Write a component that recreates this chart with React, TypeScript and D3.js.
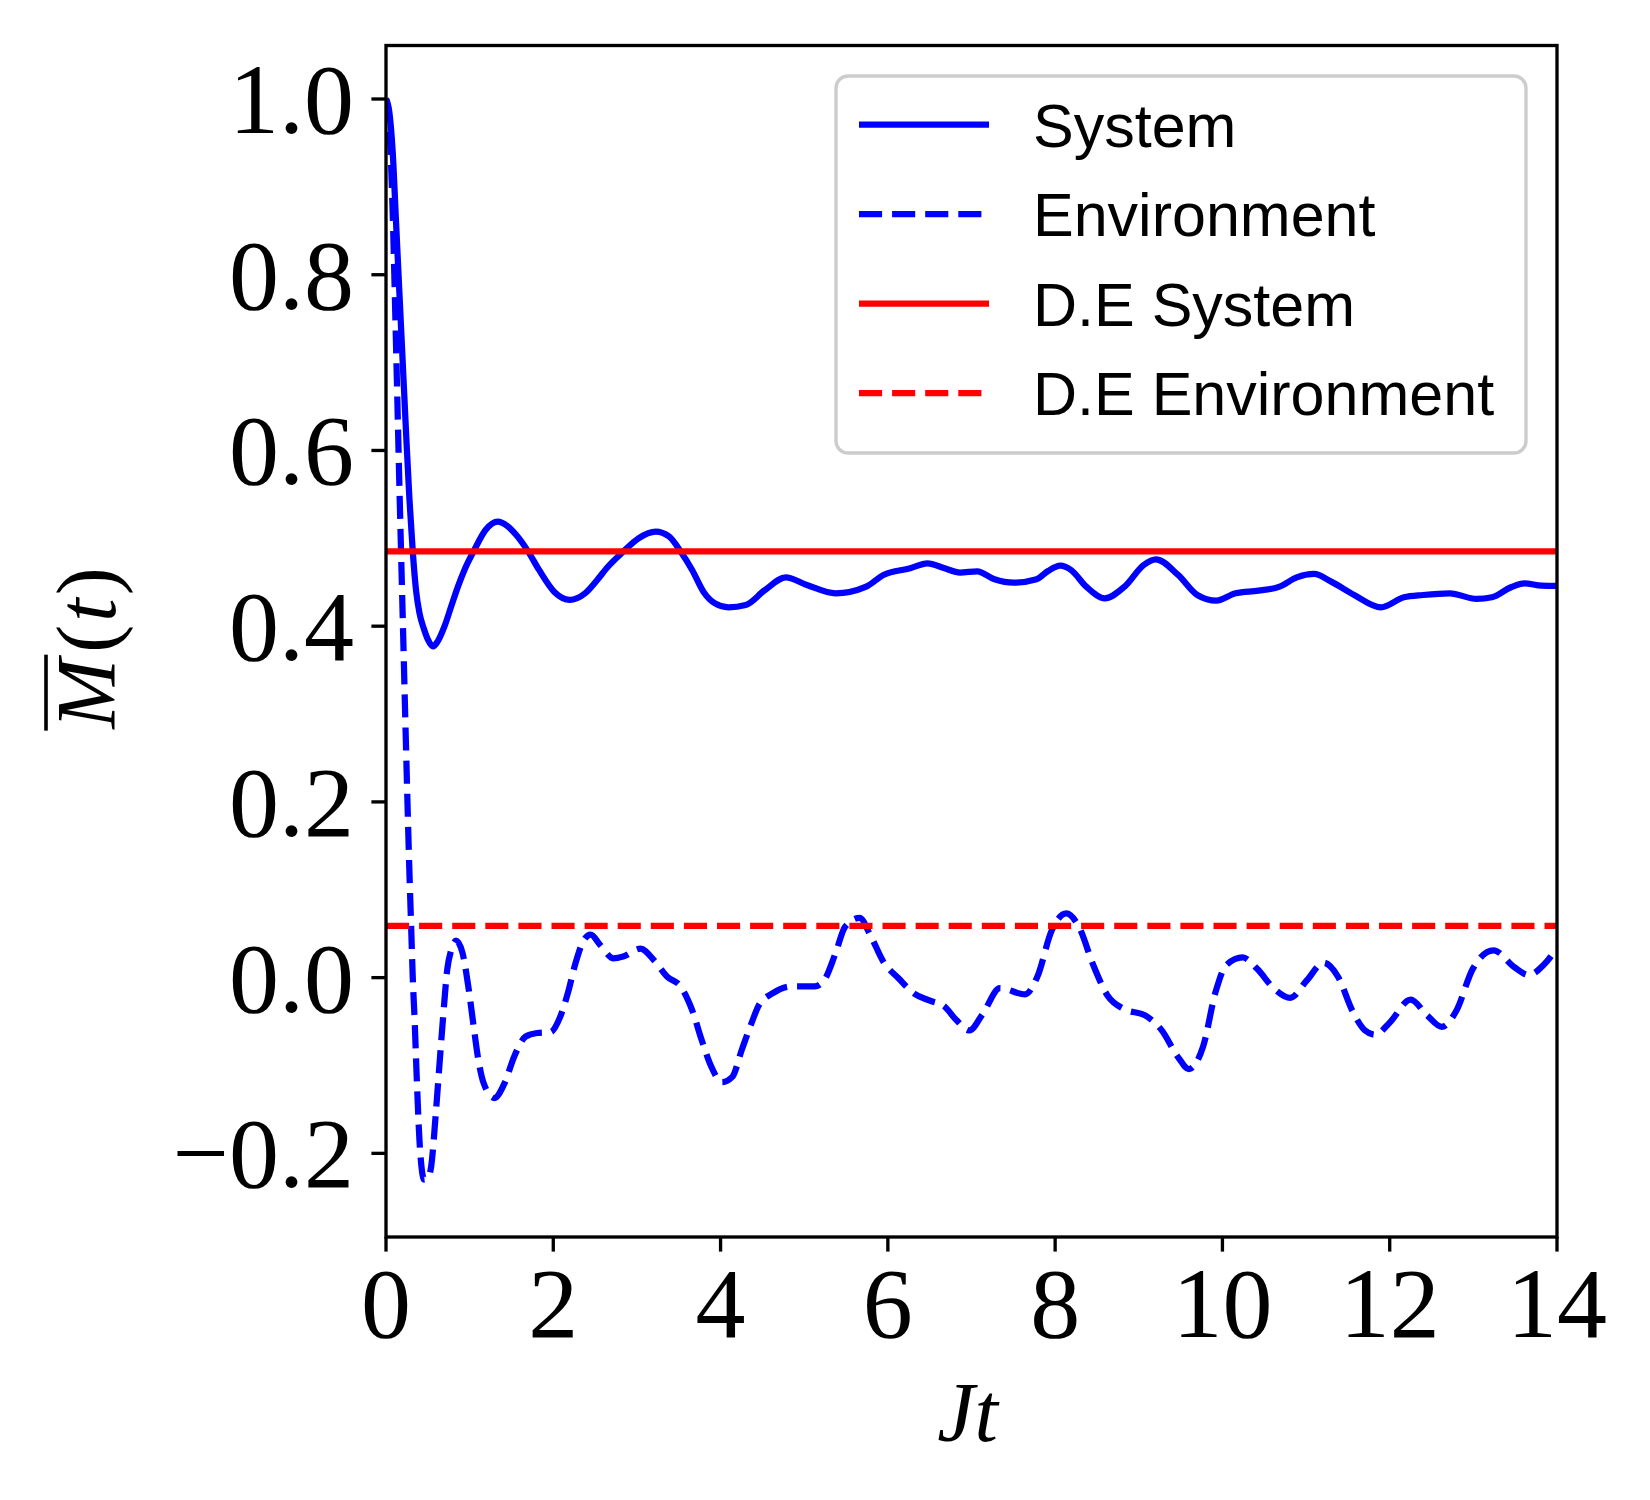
import React, { useEffect, useRef } from 'react';
import * as d3 from 'd3';

// Jt sample points, with M(t) for each curve
const systemTimes = [0, 0.04, 0.08, 0.12, 0.16, 0.2, 0.24, 0.28, 0.32, 0.36, 0.4, 0.45, 0.5, 0.563, 0.62, 0.7, 0.778, 0.86, 0.938, 1.052, 1.19, 1.336, 1.45, 1.555, 1.693, 1.83, 2.013, 2.196, 2.379, 2.52, 2.653, 2.836, 3.019, 3.225, 3.385, 3.522, 3.66, 3.797, 3.934, 4.094, 4.3, 4.529, 4.78, 5.032, 5.375, 5.741, 5.947, 6.267, 6.473, 6.679, 6.862, 7.068, 7.275, 7.503, 7.778, 7.915, 8.062, 8.19, 8.372, 8.592, 8.83, 9.059, 9.205, 9.47, 9.699, 9.928, 10.157, 10.431, 10.683, 10.889, 11.094, 11.3, 11.575, 11.895, 12.17, 12.398, 12.718, 13.039, 13.222, 13.45, 13.61, 13.816, 14.0];
const systemValues = [1.0, 0.985, 0.94, 0.86, 0.78, 0.70, 0.62, 0.545, 0.485, 0.44, 0.415, 0.398, 0.385, 0.377, 0.383, 0.40, 0.422, 0.445, 0.464, 0.486, 0.5095, 0.519, 0.514, 0.504, 0.486, 0.464, 0.439, 0.430, 0.4374, 0.452, 0.4677, 0.4848, 0.50, 0.5076, 0.502, 0.485, 0.464, 0.439, 0.426, 0.4215, 0.4241, 0.441, 0.4556, 0.4469, 0.4374, 0.445, 0.4583, 0.4659, 0.4716, 0.4659, 0.461, 0.4625, 0.4534, 0.4495, 0.4534, 0.4628, 0.4689, 0.464, 0.445, 0.4317, 0.445, 0.4697, 0.4761, 0.4583, 0.4355, 0.429, 0.4374, 0.4404, 0.445, 0.4556, 0.4594, 0.4507, 0.4355, 0.4215, 0.4329, 0.4355, 0.4374, 0.431, 0.4329, 0.4443, 0.4488, 0.4461, 0.4458];

const envTimes = [0, 0.04, 0.08, 0.12, 0.16, 0.2, 0.24, 0.28, 0.3, 0.32, 0.343, 0.366, 0.4, 0.43, 0.457, 0.5, 0.54, 0.595, 0.64, 0.686, 0.732, 0.778, 0.837, 0.915, 0.984, 1.043, 1.098, 1.167, 1.295, 1.418, 1.532, 1.67, 1.807, 1.967, 2.081, 2.173, 2.264, 2.356, 2.447, 2.562, 2.722, 2.836, 3.042, 3.202, 3.362, 3.522, 3.66, 3.774, 3.888, 4.016, 4.14, 4.254, 4.369, 4.46, 4.62, 4.849, 5.124, 5.238, 5.375, 5.489, 5.663, 5.787, 5.947, 6.13, 6.313, 6.496, 6.679, 6.816, 6.976, 7.136, 7.34, 7.64, 7.787, 7.96, 8.134, 8.283, 8.457, 8.63, 8.828, 9.076, 9.275, 9.473, 9.597, 9.77, 9.919, 10.043, 10.241, 10.415, 10.613, 10.811, 11.01, 11.208, 11.382, 11.555, 11.704, 11.828, 12.001, 12.25, 12.448, 12.621, 12.795, 12.993, 13.241, 13.489, 13.663, 13.836, 14.0];
const envValues = [1.0, 0.97, 0.87, 0.72, 0.56, 0.41, 0.26, 0.12, 0.06, 0.0, -0.05, -0.11, -0.185, -0.22, -0.23, -0.228, -0.215, -0.155, -0.098, -0.041, 0.009, 0.031, 0.042, 0.028, -0.010, -0.052, -0.09, -0.120, -0.137, -0.120, -0.09, -0.067, -0.063, -0.062, -0.045, -0.018, 0.016, 0.041, 0.049, 0.037, 0.022, 0.024, 0.033, 0.020, 0.001, -0.010, -0.037, -0.071, -0.101, -0.119, -0.113, -0.082, -0.052, -0.031, -0.018, -0.010, -0.010, -0.003, 0.028, 0.058, 0.068, 0.049, 0.018, -0.001, -0.018, -0.026, -0.033, -0.048, -0.060, -0.041, -0.012, -0.019, 0.001, 0.054, 0.073, 0.058, 0.014, -0.021, -0.036, -0.043, -0.060, -0.091, -0.104, -0.078, -0.016, 0.014, 0.023, 0.010, -0.012, -0.023, -0.003, 0.017, 0.001, -0.038, -0.060, -0.065, -0.051, -0.025, -0.043, -0.056, -0.038, 0.010, 0.031, 0.012, 0.003, 0.014, 0.034];

// diagonal-ensemble plateaus
const deSystem = 0.485;
const deEnvironment = 0.059;

const xTicks = [0, 2, 4, 6, 8, 10, 12, 14];
const yTicks = [-0.2, 0.0, 0.2, 0.4, 0.6, 0.8, 1.0];

const legendLabels = ['System', 'Environment', 'D.E System', 'D.E Environment'];

const App = () => {
  const svgRef = useRef(null);

  useEffect(() => {
    if (!svgRef.current) return;
    const svg = d3.select(svgRef.current);
    svg.selectAll('*').remove();

    const left = 386, right = 1557, top = 45.5, bottom = 1237;
    const lw = 6.25;        // 1.5pt at 300 dpi
    const axisW = 3.33;     // 0.8pt
    const tickLen = 14.6;
    const dash = '23.1,10';
    const serif = '"Liberation Serif", "DejaVu Serif", serif';
    const sans = '"Liberation Sans", Arial, sans-serif';

    const x = d3.scaleLinear().domain([0, 14]).range([left, right]);
    const y = d3.scaleLinear().domain([-0.2952, 1.0609]).range([bottom, top]);

    svg.append('rect').attr('width', 1650).attr('height', 1500).attr('fill', 'white');

    svg.append('defs').append('clipPath').attr('id', 'plot-clip')
      .append('rect')
      .attr('x', left).attr('y', top)
      .attr('width', right - left).attr('height', bottom - top);

    const plot = svg.append('g').attr('clip-path', 'url(#plot-clip)');

    const line = d3.line()
      .x(d => x(d[0]))
      .y(d => y(d[1]))
      .curve(d3.curveMonotoneX);

    const systemData = systemTimes.map((t, i) => [t, systemValues[i]]);
    const envData = envTimes.map((t, i) => [t, envValues[i]]);

    plot.append('path')
      .attr('d', line(systemData))
      .attr('fill', 'none')
      .attr('stroke', '#0000ff')
      .attr('stroke-width', lw)
      .attr('stroke-linejoin', 'round');

    plot.append('path')
      .attr('d', line(envData))
      .attr('fill', 'none')
      .attr('stroke', '#0000ff')
      .attr('stroke-width', lw)
      .attr('stroke-dasharray', dash);

    plot.append('line')
      .attr('x1', x(0)).attr('x2', x(14))
      .attr('y1', y(deSystem)).attr('y2', y(deSystem))
      .attr('stroke', '#ff0000')
      .attr('stroke-width', lw);

    plot.append('line')
      .attr('x1', x(0)).attr('x2', x(14))
      .attr('y1', y(deEnvironment)).attr('y2', y(deEnvironment))
      .attr('stroke', '#ff0000')
      .attr('stroke-width', lw)
      .attr('stroke-dasharray', dash);

    // axes frame
    svg.append('rect')
      .attr('x', left).attr('y', top)
      .attr('width', right - left).attr('height', bottom - top)
      .attr('fill', 'none')
      .attr('stroke', 'black')
      .attr('stroke-width', axisW)
      .attr('stroke-linecap', 'square');

    // x ticks
    const xAxis = svg.append('g');
    xTicks.forEach(t => {
      xAxis.append('line')
        .attr('x1', x(t)).attr('x2', x(t))
        .attr('y1', bottom).attr('y2', bottom + tickLen)
        .attr('stroke', 'black').attr('stroke-width', axisW);
      xAxis.append('text')
        .attr('x', x(t))
        .attr('y', 1337)
        .attr('text-anchor', 'middle')
        .style('font-family', serif)
        .style('font-size', '100px')
        .text(String(t));
    });

    // y ticks
    const yAxis = svg.append('g');
    const fmt = (v: number) => {
      const s = Math.abs(v).toFixed(1);
      return v < -1e-9 ? '\u2212' + s : s;
    };
    yTicks.forEach(v => {
      yAxis.append('line')
        .attr('x1', left - tickLen).attr('x2', left)
        .attr('y1', y(v)).attr('y2', y(v))
        .attr('stroke', 'black').attr('stroke-width', axisW);
      yAxis.append('text')
        .attr('x', 354)
        .attr('y', y(v) + 34)
        .attr('text-anchor', 'end')
        .style('font-family', serif)
        .style('font-size', '100px')
        .text(fmt(v));
    });

    // x label: Jt
    svg.append('text')
      .attr('x', (left + right) / 2 - 4)
      .attr('y', 1441)
      .attr('text-anchor', 'middle')
      .style('font-family', serif)
      .style('font-size', '84px')
      .style('font-style', 'italic')
      .text('Jt');

    // y label: overline M (t), rotated
    const yl = svg.append('g').attr('transform', 'translate(115,648) rotate(-90)');
    const mText = yl.append('text')
      .attr('x', 0).attr('y', 0)
      .style('font-family', serif)
      .style('font-size', '84px')
      .style('font-style', 'italic')
      .text('M');
    const rest = yl.append('text')
      .attr('x', 0).attr('y', 0)
      .style('font-family', serif)
      .style('font-size', '84px');
    rest.append('tspan').text('(');
    rest.append('tspan').style('font-style', 'italic').attr('dx', 3).text('t');
    rest.append('tspan').attr('dx', 3).text(')');
    const mW = (mText.node() as SVGTextElement).getComputedTextLength();
    const rW = (rest.node() as SVGTextElement).getComputedTextLength() + 6;
    const gap = 6;
    const total = mW + gap + rW;
    mText.attr('x', -total / 2);
    rest.attr('x', -total / 2 + mW + gap);
    yl.append('line')
      .attr('x1', -total / 2 - 2).attr('x2', -total / 2 + mW + 4)
      .attr('y1', -69).attr('y2', -69)
      .attr('stroke', 'black')
      .attr('stroke-width', 3.6);

    // legend
    const lg = svg.append('g');
    lg.append('rect')
      .attr('x', 836).attr('y', 76)
      .attr('width', 1526 - 836).attr('height', 453 - 76)
      .attr('rx', 12).attr('ry', 12)
      .attr('fill', 'white').attr('fill-opacity', 0.8)
      .attr('stroke', '#cccccc')
      .attr('stroke-width', axisW);

    const legendStyles = [
      { color: '#0000ff', dashed: false },
      { color: '#0000ff', dashed: true },
      { color: '#ff0000', dashed: false },
      { color: '#ff0000', dashed: true }
    ];
    legendLabels.forEach((label, i) => {
      const cy = 124.5 + i * 89.5;
      const h = lg.append('line')
        .attr('x1', 859).attr('x2', 989)
        .attr('y1', cy).attr('y2', cy)
        .attr('stroke', legendStyles[i].color)
        .attr('stroke-width', lw);
      if (legendStyles[i].dashed) h.attr('stroke-dasharray', dash);
      lg.append('text')
        .attr('x', 1033)
        .attr('y', cy + 22)
        .style('font-family', sans)
        .style('font-size', '61px')
        .text(label);
    });
  }, []);

  return (
    <svg
      ref={svgRef}
      width={1650}
      height={1500}
      style={{ position: 'absolute', left: 0, top: 0, display: 'block' }}
    />
  );
};

export default App;
